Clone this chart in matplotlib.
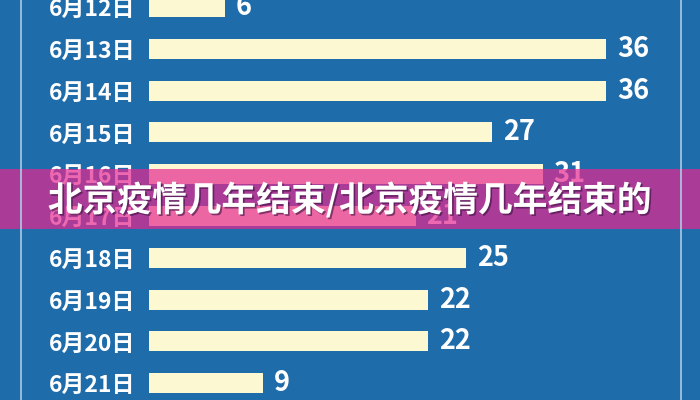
import matplotlib
matplotlib.use("Agg")
import matplotlib.pyplot as plt
import matplotlib.patheffects as pe
from matplotlib.patches import Rectangle
from matplotlib.lines import Line2D

plt.rcParams['font.family'] = ['Noto Sans CJK SC', 'DejaVu Sans']

# 每日新增病例
dates = ['6月12日', '6月13日', '6月14日', '6月15日', '6月16日',
         '6月17日', '6月18日', '6月19日', '6月20日', '6月21日']
cases = [6, 36, 36, 27, 31, 21, 25, 22, 22, 9]
banner_title = '北京疫情几年结束/北京疫情几年结束的'

bg = '#1f6cab'
bar_color = '#fbf8d2'

fig = plt.figure(figsize=(7, 4), dpi=100, facecolor=bg)
ax = fig.add_axes([149 / 700, 0, 551 / 700, 1])
ax.set_facecolor(bg)

pos = list(range(len(dates)))
ax.barh(pos, cases, height=0.48, color=bar_color, edgecolor='none')
ax.set_xlim(0, 551 / 12.7)
ax.set_ylim(9.40, -0.167)

ax.set_yticks(pos)
ax.set_yticklabels(dates, fontsize=16.5, fontweight='bold', color='white')
ax.tick_params(axis='y', length=0, pad=10)
ax.set_xticks([])
for s in ax.spines.values():
    s.set_visible(False)

for p, v in zip(pos, cases):
    ax.text(v + 0.85, p, str(v), va='center', ha='left',
            fontsize=19.5, fontweight='bold', color='white')

# 左右两条细竖线
for xp in (21, 681):
    fig.add_artist(Line2D([xp / 700, xp / 700], [0, 1], color='#a9cde3',
                          linewidth=1.2, transform=fig.transFigure))

# 粉色横幅
fig.add_artist(Rectangle((0, 1 - 229 / 400), 1, 60 / 400,
                         transform=fig.transFigure, facecolor='#e6288f',
                         alpha=0.7, edgecolor='none'))
fig.text(0.5, 1 - 200 / 400, banner_title, ha='center', va='center',
         fontsize=25, fontweight='heavy', color='white',
         path_effects=[pe.withSimplePatchShadow(offset=(1.2, -1.2),
                                                shadow_rgbFace='#3a1040',
                                                alpha=0.6)])

fig.savefig('out.png', dpi=100, facecolor=bg)
